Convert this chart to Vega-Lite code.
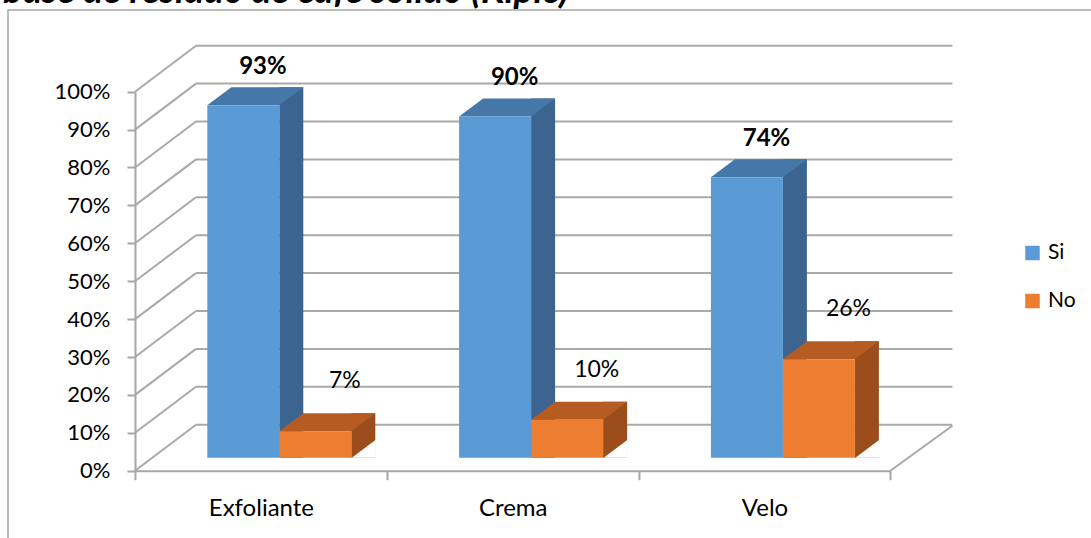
{
  "$schema": "https://vega.github.io/schema/vega-lite/v6.json",
  "autosize": "none",
  "width": 1090,
  "height": 530,
  "padding": {"left": 8, "top": 10, "right": 0, "bottom": 0},
  "background": "white",
  "config": {
    "font": "Lato",
    "view": {"stroke": "#a6a6a6", "strokeWidth": 1.5},
    "axis": {"title": null}
  },
  "title": {
    "text": "base de residuo de café sólido (Klpic)",
    "anchor": "start",
    "frame": "group",
    "orient": "top",
    "offset": 2,
    "baseline": "alphabetic",
    "dx": -5,
    "dy": 32,
    "font": "Lato",
    "fontSize": 37,
    "fontWeight": "bold",
    "fontStyle": "italic",
    "color": "#000000"
  },
  "datasets": {
    "bars": [
      {"cat": "Exfoliante", "serie": "Si", "value": 0.93},
      {"cat": "Exfoliante", "serie": "No", "value": 0.07},
      {"cat": "Crema", "serie": "Si", "value": 0.90},
      {"cat": "Crema", "serie": "No", "value": 0.10},
      {"cat": "Velo", "serie": "Si", "value": 0.74},
      {"cat": "Velo", "serie": "No", "value": 0.26}
    ],
    "levels": [
      {"v": 0}, {"v": 0.1}, {"v": 0.2}, {"v": 0.3}, {"v": 0.4}, {"v": 0.5},
      {"v": 0.6}, {"v": 0.7}, {"v": 0.8}, {"v": 0.9}, {"v": 1}
    ]
  },
  "resolve": {"scale": {"x": "independent"}},
  "layer": [
    {
      "data": {"name": "levels"},
      "layer": [
        {
          "mark": {"type": "rule", "color": "#a9a9a9", "strokeWidth": 2, "x2Offset": 61, "y2Offset": -46},
          "encoding": {
            "x": {"datum": 0, "type": "quantitative", "scale": {"domain": [0, 1], "range": [127, 882.4]}, "axis": null},
            "x2": {"datum": 0},
            "y": {"field": "v", "type": "quantitative", "title": null,
                  "scale": {"domain": [0, 1], "range": [460.7, 81.7], "nice": false},
                  "axis": {"values": [0, 0.1, 0.2, 0.3, 0.4, 0.5, 0.6, 0.7, 0.8, 0.9, 1], "format": ".0%",
                           "orient": "left", "grid": false, "offset": -127, "domainColor": "#a6a6a6", "domainWidth": 2,
                           "tickColor": "#a6a6a6", "tickWidth": 2, "tickSize": 8, "labelPadding": 17,
                           "labelFont": "Lato", "labelFontSize": 22, "labelColor": "#000000", "title": null}},
            "y2": {"field": "v"}
          }
        },
        {
          "mark": {"type": "rule", "color": "#a9a9a9", "strokeWidth": 2, "xOffset": 61, "x2Offset": 62, "yOffset": -46, "y2Offset": -46},
          "encoding": {
            "x": {"datum": 0, "type": "quantitative"},
            "x2": {"datum": 1},
            "y": {"field": "v", "type": "quantitative", "title": null},
            "y2": {"field": "v"}
          }
        },
        {
          "transform": [{"filter": "datum.v == 0"}],
          "mark": {"type": "rule", "color": "#a9a9a9", "strokeWidth": 2, "x2Offset": 62, "y2Offset": -45},
          "encoding": {
            "x": {"datum": 1, "type": "quantitative"},
            "x2": {"datum": 1},
            "y": {"field": "v", "type": "quantitative", "title": null},
            "y2": {"field": "v"}
          }
        }
      ]
    },
    {
      "data": {"name": "bars"},
      "encoding": {
        "x": {"field": "cat", "type": "nominal", "sort": ["Exfoliante", "Crema", "Velo"],
              "scale": {"type": "band", "range": [127, 882.4], "paddingInner": 0, "paddingOuter": 0},
              "axis": {"orient": "bottom", "offset": -69.3, "tickBand": "extent", "labelAngle": 0, "domainColor": "#a6a6a6", "domainWidth": 2,
                       "tickColor": "#a6a6a6", "tickWidth": 2, "tickSize": 9, "labelPadding": 17,
                       "labelFont": "Lato", "labelFontSize": 24, "labelColor": "#000000", "title": null}},
        "y": {"field": "value", "type": "quantitative", "title": null}
      },
      "layer": [
        {
          "transform": [{"filter": "datum.serie == 'Si'"}],
          "mark": {"type": "bar", "width": 24, "xOffset": 30.4, "yOffset": -31, "y2Offset": -13, "color": "#3b6590"},
          "encoding": {"y2": {"datum": 0}}
        },
        {
          "transform": [{"filter": "datum.serie == 'Si'"}],
          "mark": {"type": "point", "shape": "M-1,0.1875L0.5,0.1875L1,-0.1875L-0.5,-0.1875Z", "size": 9216,
                   "filled": true, "opacity": 1, "strokeWidth": 0, "color": "#4677a9", "xOffset": -5.6, "yOffset": -22}
        },
        {
          "transform": [{"filter": "datum.serie == 'Si'"}],
          "mark": {"type": "bar", "width": 72, "xOffset": -17.6, "yOffset": -13, "y2Offset": -13},
          "encoding": {
            "y2": {"datum": 0},
            "color": {"field": "serie", "type": "nominal",
                      "scale": {"domain": ["Si", "No"], "range": ["#5b9bd5", "#ed7d31"]},
                      "legend": {"title": null, "orient": "none", "legendX": 1014, "legendY": 232.5,
                                 "symbolType": "square", "symbolSize": 210, "symbolStrokeWidth": 0,
                                 "labelFont": "Lato", "labelFontSize": 21, "labelColor": "#000000",
                                 "labelOffset": 5, "rowPadding": 26, "padding": 0}}
          }
        },
        {
          "transform": [{"filter": "datum.serie == 'No'"}],
          "mark": {"type": "bar", "width": 24, "xOffset": 102.4, "yOffset": -31, "y2Offset": -13, "color": "#9b4e1c"},
          "encoding": {"y2": {"datum": 0}}
        },
        {
          "transform": [{"filter": "datum.serie == 'No'"}],
          "mark": {"type": "point", "shape": "M-1,0.1875L0.5,0.1875L1,-0.1875L-0.5,-0.1875Z", "size": 9216,
                   "filled": true, "opacity": 1, "strokeWidth": 0, "color": "#b65c22", "xOffset": 66.4, "yOffset": -22}
        },
        {
          "transform": [{"filter": "datum.serie == 'No'"}],
          "mark": {"type": "bar", "width": 72, "xOffset": 54.4, "yOffset": -13, "y2Offset": -13},
          "encoding": {
            "y2": {"datum": 0},
            "color": {"field": "serie", "type": "nominal"}
          }
        },
        {
          "transform": [{"filter": "datum.serie == 'No'"}],
          "mark": {"type": "point", "shape": "M-1,0.75L1,0.75L1,-0.75Z", "size": 576,
                   "filled": true, "opacity": 1, "strokeWidth": 0, "color": "#ffffff", "xOffset": 102.9, "yOffset": -22},
          "encoding": {"y": {"datum": 0}}
        },
        {
          "transform": [{"filter": "datum.serie == 'Si'"}],
          "mark": {"type": "text", "font": "Lato", "fontSize": 24, "fontWeight": "bold", "color": "#000000",
                   "baseline": "middle", "align": "center", "dx": 2, "dy": -51.5},
          "encoding": {"text": {"field": "value", "type": "quantitative", "format": ".0%"}}
        },
        {
          "transform": [{"filter": "datum.serie == 'No'"}],
          "mark": {"type": "text", "font": "Lato", "fontSize": 23, "color": "#000000",
                   "baseline": "middle", "align": "center", "dx": 84, "dy": -63},
          "encoding": {"text": {"field": "value", "type": "quantitative", "format": ".0%"}}
        }
      ]
    }
  ]
}
